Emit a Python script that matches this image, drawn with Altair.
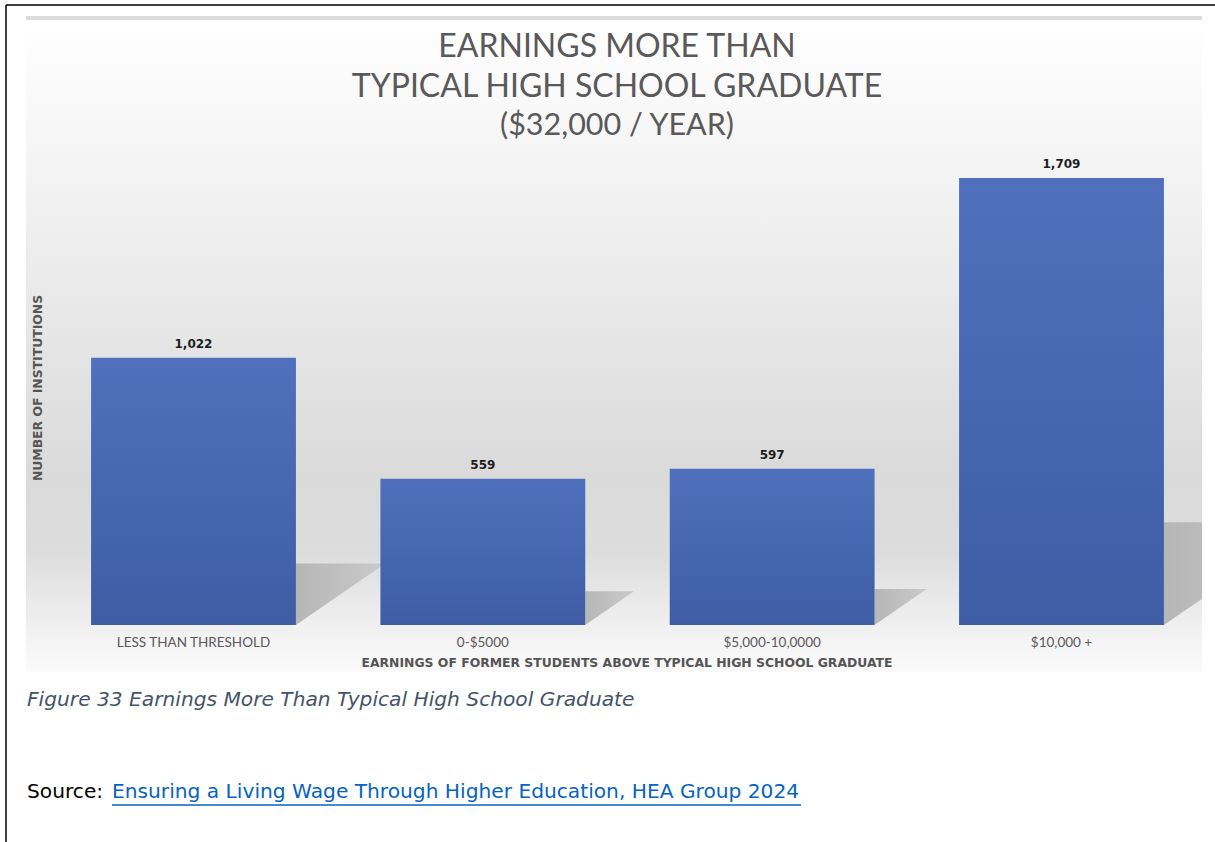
import altair as alt
import pandas as pd

# Chart values
categories = ["LESS THAN THRESHOLD", "0-$5000", "$5,000-10,0000", "$10,000 +"]
institutions = [1022, 559, 597, 1709]
positions = [0, 1, 2, 3]

title_lines = ["EARNINGS MORE THAN", "TYPICAL HIGH SCHOOL GRADUATE", "($32,000 / YEAR)"]
y_title = "NUMBER OF INSTITUTIONS"
x_title = "EARNINGS OF FORMER STUDENTS ABOVE TYPICAL HIGH SCHOOL GRADUATE"
caption = "Figure 33 Earnings More Than Typical High School Graduate"
source_prefix = "Source: "
source_link = "Ensuring a Living Wage Through Higher Education, HEA Group 2024"

W, H = 1215, 842
FONT = "Lato"
BOLD_FONT = "DejaVu Sans"
DOC_FONT = "DejaVu Sans"

# Position scales: category index -> pixel column, count -> pixel row
x_scale = alt.Scale(domain=[0, 3], range=[193.5, 1061.5], nice=False, zero=False)
y_scale = alt.Scale(domain=[0, 1709], range=[625, 178], nice=False, zero=False)
HALF = 0.354          # half bar width in category units
STEP_PX = 289.33      # pixels per category step
PX_PER_UNIT = 447 / 1709
SHADOW_H = 0.23       # shadow height as share of bar value
SHADOW_SLANT = 1.45   # shadow width relative to its height

bars = pd.DataFrame({"cat": categories, "value": institutions, "pos": positions})
bars["x0"] = bars["pos"] - HALF
bars["x1"] = bars["pos"] + HALF

rows = []
for c, v, p in zip(categories, institutions, positions):
    h = v * SHADOW_H
    w = SHADOW_SLANT * h * PX_PER_UNIT / STEP_PX
    r = p + HALF
    rows.append({"cat": c, "sx": r, "sy": h, "sy2": 0})
    rows.append({"cat": c, "sx": r + w, "sy": h, "sy2": h})
shadows = pd.DataFrame(rows)

one = alt.Data(values=[{}])

def deco_rect(x, x2, y, y2, fill):
    return alt.Chart(one).mark_rect(fill=fill).encode(
        x=alt.value(x), x2=alt.value(x2), y=alt.value(y), y2=alt.value(y2)
    )

def deco_text(txt, x, y, **kw):
    return alt.Chart(one).mark_text(text=txt, **kw).encode(x=alt.value(x), y=alt.value(y))

wall = alt.LinearGradient(
    gradient="linear", x1=0, y1=0, x2=0, y2=1,
    stops=[
        alt.GradientStop(offset=0.0, color="#ffffff"),
        alt.GradientStop(offset=0.2, color="#f5f5f5"),
        alt.GradientStop(offset=0.5, color="#e5e5e5"),
        alt.GradientStop(offset=0.7, color="#dadada"),
        alt.GradientStop(offset=0.82, color="#dddddd"),
        alt.GradientStop(offset=0.9, color="#ebebeb"),
        alt.GradientStop(offset=0.96, color="#f5f5f5"),
        alt.GradientStop(offset=1.0, color="#fafafa"),
    ],
)
background = deco_rect(26, 1202, 20, 672, wall)
top_strip = deco_rect(26, 1202, 16, 20, "#dcdcdc")

shadow_fill = alt.LinearGradient(
    gradient="linear", x1=0, y1=0, x2=1, y2=0,
    stops=[
        alt.GradientStop(offset=0.0, color="#b6b6b6"),
        alt.GradientStop(offset=1.0, color="#cacaca"),
    ],
)
shadow_layer = alt.Chart(shadows).mark_area(fill=shadow_fill, orient="vertical").encode(
    x=alt.X("sx:Q", scale=x_scale, axis=None),
    y=alt.Y("sy:Q", scale=y_scale, axis=None),
    y2="sy2:Q",
    detail="cat:N",
)
right_cover = deco_rect(1202, W, 16, 680, "#ffffff")

bar_fill = alt.LinearGradient(
    gradient="linear", x1=0, y1=0, x2=0, y2=1,
    stops=[
        alt.GradientStop(offset=0.0, color="#5070bd"),
        alt.GradientStop(offset=1.0, color="#3e5da5"),
    ],
)
bar_layer = alt.Chart(bars).mark_rect(fill=bar_fill).encode(
    x=alt.X("x0:Q", scale=x_scale, axis=None),
    x2="x1:Q",
    y=alt.Y("value:Q", scale=y_scale, axis=None),
    y2=alt.datum(0),
)
value_labels = alt.Chart(bars).mark_text(
    font=BOLD_FONT, fontSize=12, fontWeight="bold", color="#1e1e1e", baseline="bottom", dy=-7
).encode(
    x=alt.X("pos:Q", scale=x_scale),
    y=alt.Y("value:Q", scale=y_scale),
    text=alt.Text("value:Q", format=","),
)
cat_labels = alt.Chart(bars).mark_text(
    font=FONT, fontSize=13.5, color="#595959", baseline="middle"
).encode(
    x=alt.X("pos:Q", scale=x_scale),
    y=alt.value(643),
    text="cat:N",
)

title_color = "#595959"
titles = [
    deco_text(title_lines[0], 617, 47, font=FONT, fontSize=32, color=title_color, baseline="middle"),
    deco_text(title_lines[1], 617, 87, font=FONT, fontSize=32, color=title_color, baseline="middle"),
    deco_text(title_lines[2], 617, 126, font=FONT, fontSize=30.5, color=title_color, baseline="middle"),
]
axis_titles = [
    deco_text(y_title, 38, 388, font=BOLD_FONT, fontSize=12.4, fontWeight="bold", color="#555555",
              angle=270, baseline="middle"),
    deco_text(x_title, 627, 663, font=BOLD_FONT, fontSize=12.4, fontWeight="bold", color="#555555",
              baseline="middle"),
]
doc_text = [
    deco_text(caption, 27, 700, font=DOC_FONT, fontSize=20.2, fontStyle="italic", color="#44546a",
              align="left", baseline="middle"),
    deco_text(source_prefix, 27, 792, font=DOC_FONT, fontSize=20.2, color="#000000",
              align="left", baseline="middle"),
    deco_text(source_link, 112, 792, font=DOC_FONT, fontSize=20.2, color="#0563c1",
              align="left", baseline="middle"),
]
underline = alt.Chart(one).mark_rule(color="#0563c1", strokeWidth=1.3).encode(
    x=alt.value(112), x2=alt.value(801), y=alt.value(805)
)
border_left = alt.Chart(one).mark_rule(color="#000000", strokeWidth=1.5).encode(
    x=alt.value(6), y=alt.value(5), y2=alt.value(H)
)
border_top = alt.Chart(one).mark_rule(color="#000000", strokeWidth=1.5).encode(
    x=alt.value(6), x2=alt.value(W), y=alt.value(5)
)

chart = alt.layer(
    background, top_strip, shadow_layer, right_cover, bar_layer, value_labels, cat_labels,
    *titles, *axis_titles, *doc_text, underline, border_left, border_top,
).properties(
    width=W, height=H, autosize=alt.AutoSizeParams(type="none"), padding=0, background="#ffffff"
).configure_view(stroke=None)

chart.save("out.html", embed_options={"renderer": "svg", "actions": False})
